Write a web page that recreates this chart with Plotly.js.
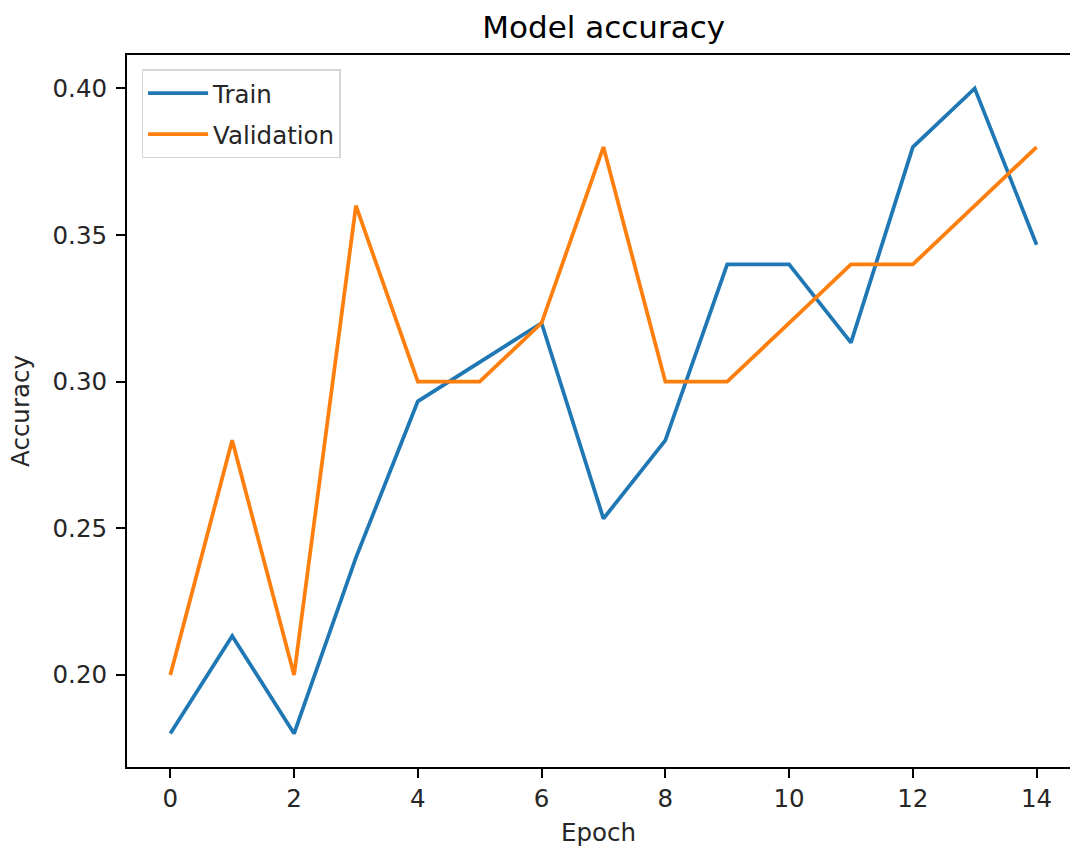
<!DOCTYPE html>
<html>
<head>
<meta charset="utf-8">
<script src="https://cdn.plot.ly/plotly-3.0.1.min.js"></script>
<style>html,body{margin:0;padding:0;background:#fff;overflow:hidden;}#chart{width:1070px;height:849px;}</style>
</head>
<body>
<div id="chart"></div>
<script>
const epochs = [0,1,2,3,4,5,6,7,8,9,10,11,12,13,14];
const trainAcc = [0.18,0.2133,0.18,0.24,0.2933,0.3067,0.32,0.2533,0.28,0.34,0.34,0.3133,0.38,0.40,0.3467];
const valAcc = [0.20,0.28,0.20,0.36,0.30,0.30,0.32,0.38,0.30,0.30,0.32,0.34,0.34,0.36,0.38];
const yTicks = [0.20,0.25,0.30,0.35,0.40];
const xTicks = [0,2,4,6,8,10,12,14];

const FAM = 'DejaVu Sans, sans-serif';
const TXT = '#262626';
const FS = 24.5;
const traces = [
  {x: epochs, y: trainAcc, name: 'Train', mode: 'lines', legendgroup: 'a', line: {color: '#1f77b4', width: 3.75}},
  {x: epochs, y: valAcc, name: 'Validation', mode: 'lines', legendgroup: 'b', line: {color: '#ff7f0e', width: 3.75}}
];
const layout = {
  width: 1070, height: 849,
  margin: {l: 127, r: 0, t: 55, b: 82},
  paper_bgcolor: '#fff', plot_bgcolor: '#fff',
  font: {family: FAM, size: FS, color: TXT},
  showlegend: true,
  title: {text: 'Model accuracy', font: {family: FAM, size: 31, color: '#000'},
          xref: 'container', x: 0.5642, xanchor: 'center', yref: 'container', y: 0.968, yanchor: 'middle'},
  xaxis: {
    range: [-0.7, 14.54], tickvals: xTicks, ticktext: xTicks.map(String),
    showgrid: false, zeroline: false, showline: true, mirror: true, linecolor: '#000', linewidth: 2,
    ticks: 'outside', ticklen: 9, tickwidth: 2, tickcolor: '#000',
    tickfont: {family: FAM, size: FS, color: TXT},
    title: {text: 'Epoch', font: {family: FAM, size: FS, color: TXT}, standoff: 11}
  },
  yaxis: {
    range: [0.1686, 0.4114], tickvals: yTicks, ticktext: yTicks.map(v => v.toFixed(2)),
    showgrid: false, zeroline: false, showline: true, mirror: false, linecolor: '#000', linewidth: 2,
    ticks: 'outside', ticklen: 9, tickwidth: 2, tickcolor: '#000', ticklabelstandoff: 4,
    tickfont: {family: FAM, size: FS, color: TXT},
    title: {text: 'Accuracy', font: {family: FAM, size: FS, color: TXT}, standoff: 16}
  },
  legend: {
    x: 0.0155, y: 0.98, xanchor: 'left', yanchor: 'top',
    bgcolor: 'rgba(255,255,255,0.8)', bordercolor: '#d6d6d6', borderwidth: 1.5,
    font: {family: FAM, size: FS, color: TXT},
    traceorder: 'grouped', tracegroupgap: 6, itemwidth: 60
  }
};
Plotly.newPlot('chart', traces, layout, {displayModeBar: false, staticPlot: true});
</script>
</body>
</html>
